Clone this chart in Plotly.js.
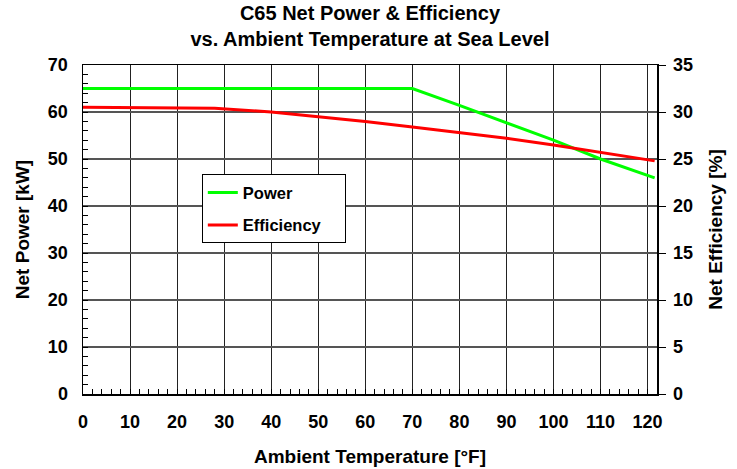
<!DOCTYPE html>
<html>
<head>
<meta charset="utf-8">
<script src="https://cdn.plot.ly/plotly-3.0.1.min.js"></script>
<style>html,body{margin:0;padding:0;background:#fff;}#chart{width:737px;height:469px;}</style>
</head>
<body>
<div id="chart"></div>
<script>
// Data
const powerTemps = [0, 70, 80, 90, 100, 110, 121.5];
const powerKW = [65, 65, 61.4, 57.7, 54.0, 50.0, 46.0];
const effTemps = [0, 28, 40, 50, 60, 70, 80, 90, 100, 110, 121.5];
const effPct = [30.5, 30.4, 30.0, 29.5, 29.0, 28.4, 27.8, 27.2, 26.5, 25.7, 24.8];
const xTicks = [0, 10, 20, 30, 40, 50, 60, 70, 80, 90, 100, 110, 120];
const seriesNames = ['Power', 'Efficiency'];

const F = "Liberation Sans, Arial, sans-serif";
const boldFont = (s) => ({family: F, size: s, color: '#000', weight: 'bold'});
const pad = '\u00a0\u00a0\u00a0\u00a0';

const traces = [
  {x: powerTemps, y: powerKW, name: seriesNames[0] + pad, mode: 'lines', yaxis: 'y',
   line: {color: '#00ff00', width: 3}, legendgroup: 'a'},
  {x: effTemps, y: effPct, name: seriesNames[1] + pad, mode: 'lines', yaxis: 'y2',
   line: {color: '#ff0000', width: 3}, legendgroup: 'b'}
];

const layout = {
  width: 737, height: 469,
  margin: {l: 83, r: 80, t: 65, b: 75},
  paper_bgcolor: '#fff', plot_bgcolor: '#fff',
  font: boldFont(17),
  title: {text: 'C65 Net Power & Efficiency<br>vs. Ambient Temperature at Sea Level',
          font: boldFont(20), x: 0.502, xanchor: 'center', y: 0.958, yanchor: 'top'},
  showlegend: true,
  legend: {x: 0.207, y: 0.668, xanchor: 'left', yanchor: 'top',
           bgcolor: '#fff', bordercolor: '#000', borderwidth: 1,
           font: boldFont(16.5), traceorder: 'grouped', tracegroupgap: 8},
  xaxis: {
    range: [0, 122], tickvals: xTicks, ticktext: xTicks.map(String),
    showgrid: true, gridcolor: '#222', gridwidth: 1,
    showline: true, linecolor: '#000', linewidth: 1.5, mirror: true,
    ticks: 'inside', ticklen: 5, tickcolor: '#000',
    minor: {dtick: 2, ticks: 'inside', ticklen: 5, tickcolor: '#000', showgrid: false},
    tickfont: boldFont(18), ticklabelstandoff: 11,
    zeroline: false,
    title: {text: 'Ambient Temperature [°F]', font: boldFont(19), standoff: 18}
  },
  yaxis: {
    range: [0, 70], dtick: 10,
    showgrid: true, gridcolor: '#555', gridwidth: 1.3,
    showline: true, linecolor: '#000', linewidth: 1.5,
    ticks: 'inside', ticklen: 5, tickcolor: '#000',
    minor: {dtick: 2, ticks: 'inside', ticklen: 5, tickcolor: '#000', showgrid: false},
    tickfont: boldFont(18), ticklabelstandoff: 10,
    zeroline: false,
    title: {text: 'Net Power [kW]', font: boldFont(19), standoff: 13}
  },
  yaxis2: {
    range: [0, 35], dtick: 5, overlaying: 'y', side: 'right',
    showgrid: false,
    showline: true, linecolor: '#000', linewidth: 1.5,
    ticks: 'outside', ticklen: 7, tickcolor: '#000',
    tickfont: boldFont(18), ticklabelstandoff: 4,
    zeroline: false,
    title: {text: 'Net Efficiency [%]', font: boldFont(19), standoff: 16}
  }
};

Plotly.newPlot('chart', traces, layout, {displayModeBar: false, staticPlot: true});
</script>
</body>
</html>
